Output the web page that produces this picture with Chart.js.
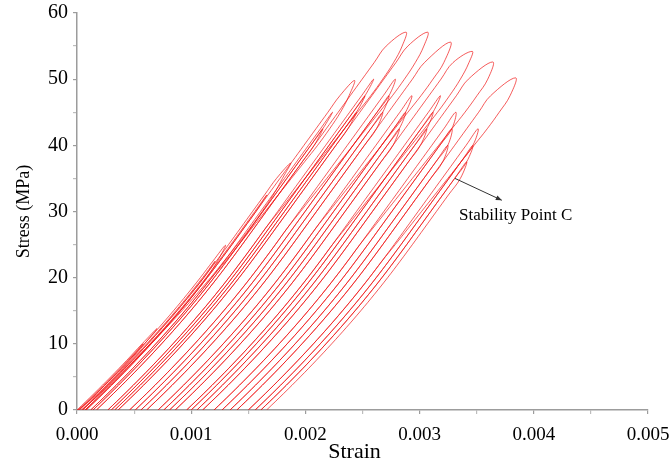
<!DOCTYPE html>
<html>
<head>
<meta charset="utf-8">
<script src="https://cdn.jsdelivr.net/npm/chart.js@4.4.1/dist/chart.umd.min.js"></script>
<style>
  html, body { margin: 0; padding: 0; background: #ffffff; }
  #wrap { width: 670px; height: 466px; }
</style>
</head>
<body>
<div id="wrap"><canvas id="chart" width="670" height="466"></canvas></div>
<script>
// Axis ticks
const strainTicks = [0, 0.0005, 0.001, 0.0015, 0.002, 0.0025, 0.003, 0.0035, 0.004, 0.0045, 0.005];
const stressTicks = [0, 5, 10, 15, 20, 25, 30, 35, 40, 45, 50, 55, 60];

// Loading branch: stress levels (MPa) and the strain gained from the start of a cycle
const stressLevels = [0, 2.5, 5, 7.5, 10, 12.5, 15, 17.5, 20, 22.5, 25, 27.5,
                      30, 32.5, 35, 37.5, 40, 42.5, 45, 47.5, 50, 52.5, 55, 57.5];
const loadingStrain = [0, 0.00015, 0.000295, 0.000435, 0.00057, 0.0007, 0.000825, 0.000945,
                       0.00106, 0.00117, 0.001277, 0.001382, 0.001487, 0.001592, 0.001697, 0.001802,
                       0.001907, 0.002012, 0.002117, 0.002222, 0.002327, 0.002432, 0.002537, 0.002642];

// Extra opening of the unloading branch near the peak, per 2.5 MPa step below the peak
const peakBulge = [0.00004, 0.00007, 0.00008, 0.00008, 0.00007, 0.00006, 0.00005, 0.00004,
                   0.00003, 0.00002, 0.00001, 0, 0, 0, 0, 0, 0, 0, 0, 0, 0, 0, 0, 0];

// First cycle of each load level
const cycleStart  = [0, 0.00002, 0.00005, 0.00008, 0.00017, 0.00036, 0.00061, 0.00086, 0.0011, 0.0014];
const peakStrain  = [0.0007, 0.0013, 0.00187, 0.00243, 0.00288, 0.00307, 0.00327, 0.00346, 0.00364, 0.00384];
const peakStress  = [12.3, 24.9, 37.3, 49.8, 57.1, 57.1, 55.6, 54.2, 52.6, 50.2];
const residualEnd = [0.00001, 0.00004, 0.00007, 0.00012, 0.00027, 0.00046, 0.00071, 0.00096, 0.0012, 0.0015];
const bulgeScale  = [0.3, 0.5, 0.8, 1, 1, 1, 1, 1, 1, 1];

// Repeated cycles at each load level: start strain, peak stress, residual strain
const repeatStart = [
  [0.00001], [0.00004], [0.00007], [0.00012, 0.00014],
  [0.00027, 0.0003, 0.00033], [0.00046, 0.00051, 0.00056], [0.00071, 0.00076, 0.00081],
  [0.00096, 0.001, 0.00105], [0.0012, 0.00127, 0.00134], [0.0015, 0.00156, 0.00161]
];
const repeatPeak = [
  [10], [22.5], [32.5], [45, 42.5], [50, 47.5, 45],
  [50, 47.5, 45], [47.5, 45, 42.5], [47.5, 45, 42.5], [45, 42.5, 40], [42.5, 40, 37.5]
];
const repeatEnd = [
  [0.00002], [0.00005], [0.00008], [0.00014, 0.00017],
  [0.0003, 0.00033, 0.00036], [0.00051, 0.00056, 0.00061], [0.00076, 0.00081, 0.00086],
  [0.001, 0.00105, 0.0011], [0.00127, 0.00134, 0.0014], [0.00156, 0.00161, 0.00166]
];

// Callout
const calloutText = 'Stability Point C';
const calloutFrom = { x: 0.00331, y: 35 };
const calloutTo   = { x: 0.00372, y: 31.7 };
const calloutLabel = { x: 0.003345, y: 29.4 };

const LINE = 'rgba(240, 14, 14, 0.68)';
const AXIS = '#9c9c9c';
const SERIF = '"Liberation Serif", "Times New Roman", serif';

// One hysteresis cycle: loading from `start` up to the peak, unloading down to `end`
function cycle(start, tipX, tipY, bulge, end) {
  const base = end - start;
  const pts = [];
  stressLevels.forEach((s, i) => {
    if (s < tipY - 1) pts.push({ x: start + loadingStrain[i], y: s });
  });
  pts.push({ x: tipX, y: tipY });
  for (let i = stressLevels.length - 1; i >= 1; i--) {
    const drop = tipY - stressLevels[i];
    if (drop < 1.5) continue;
    const j = Math.min(peakBulge.length - 1, Math.floor(drop / 2.5));
    pts.push({ x: start + loadingStrain[i] + base + bulge * peakBulge[j], y: stressLevels[i] });
  }
  pts.push({ x: end, y: 0 });
  return pts;
}

const datasets = [];
function addSet(points) {
  datasets.push({
    data: points, showLine: true, borderColor: LINE, borderWidth: 1,
    pointRadius: 0, tension: 0.4, fill: false
  });
}
cycleStart.forEach((b, k) => {
  addSet(cycle(b, peakStrain[k], peakStress[k], bulgeScale[k], residualEnd[k]));
  repeatStart[k].forEach((s, r) => {
    const p = repeatPeak[k][r];
    const tipX = s + loadingStrain[stressLevels.indexOf(p)];
    addSet(cycle(s, tipX, p, 0, repeatEnd[k][r]));
  });
});

const textPlugin = {
  id: 'chartText',
  afterDraw(chart) {
    const { ctx, chartArea, scales: { x, y } } = chart;
    ctx.save();
    ctx.fillStyle = '#000';
    ctx.textAlign = 'center';
    ctx.textBaseline = 'middle';
    ctx.font = '22px ' + SERIF;
    ctx.fillText('Strain', (chartArea.left + chartArea.right) / 2 - 8, 452);
    ctx.save();
    ctx.translate(24, (chartArea.top + chartArea.bottom) / 2);
    ctx.rotate(-Math.PI / 2);
    ctx.font = '18px ' + SERIF;
    ctx.fillText('Stress (MPa)', 0, 0);
    ctx.restore();

    // callout arrow
    const x0 = x.getPixelForValue(calloutFrom.x), y0 = y.getPixelForValue(calloutFrom.y);
    const x1 = x.getPixelForValue(calloutTo.x), y1 = y.getPixelForValue(calloutTo.y);
    ctx.strokeStyle = '#333';
    ctx.fillStyle = '#333';
    ctx.lineWidth = 1;
    ctx.beginPath(); ctx.moveTo(x0, y0); ctx.lineTo(x1, y1); ctx.stroke();
    const a = Math.atan2(y1 - y0, x1 - x0);
    ctx.beginPath();
    ctx.moveTo(x1, y1);
    ctx.lineTo(x1 - 6 * Math.cos(a) + 2.5 * Math.sin(a), y1 - 6 * Math.sin(a) - 2.5 * Math.cos(a));
    ctx.lineTo(x1 - 6 * Math.cos(a) - 2.5 * Math.sin(a), y1 - 6 * Math.sin(a) + 2.5 * Math.cos(a));
    ctx.closePath(); ctx.fill();

    ctx.fillStyle = '#000';
    ctx.textAlign = 'left';
    ctx.font = '17px ' + SERIF;
    ctx.fillText(calloutText, x.getPixelForValue(calloutLabel.x), y.getPixelForValue(calloutLabel.y));
    ctx.restore();
  }
};

const tickColor = (ctx) => (ctx.tick && ctx.index % 2 === 1) ? '#bdbdbd' : AXIS;
const noSidePadding = (s) => { s.paddingLeft = 0; s.paddingRight = 0; s.paddingTop = 0; s.paddingBottom = 0; };

new Chart(document.getElementById('chart'), {
  type: 'scatter',
  data: { datasets },
  options: {
    responsive: false,
    animation: false,
    events: [],
    layout: { padding: { top: 13, right: 22, left: 0, bottom: 0 } },
    plugins: { legend: { display: false }, tooltip: { enabled: false } },
    scales: {
      x: {
        type: 'linear', min: 0, max: 0.005,
        afterBuildTicks: (s) => { s.ticks = strainTicks.map(v => ({ value: v })); },
        afterFit: (s) => { s.height = 56; noSidePadding(s); },
        ticks: {
          autoSkip: false, maxRotation: 0, padding: 10, color: '#000',
          font: { family: SERIF, size: 19 },
          callback: (v, i) => (i % 2 === 0 ? v.toFixed(3) : '')
        },
        grid: { drawOnChartArea: false, drawTicks: true, tickLength: 4, color: tickColor, lineWidth: 1.2 },
        border: { display: true, color: AXIS, width: 1.5 }
      },
      y: {
        type: 'linear', min: 0, max: 60,
        afterBuildTicks: (s) => { s.ticks = stressTicks.map(v => ({ value: v })); },
        afterFit: (s) => { s.width = 77; noSidePadding(s); },
        ticks: {
          autoSkip: false, padding: 5, color: '#000',
          font: { family: SERIF, size: 20 },
          callback: (v, i) => (i % 2 === 0 ? String(v) : '')
        },
        grid: { drawOnChartArea: false, drawTicks: true, tickLength: 4, color: tickColor, lineWidth: 1.2 },
        border: { display: true, color: AXIS, width: 1.5 }
      }
    }
  },
  plugins: [textPlugin]
});
</script>
</body>
</html>
